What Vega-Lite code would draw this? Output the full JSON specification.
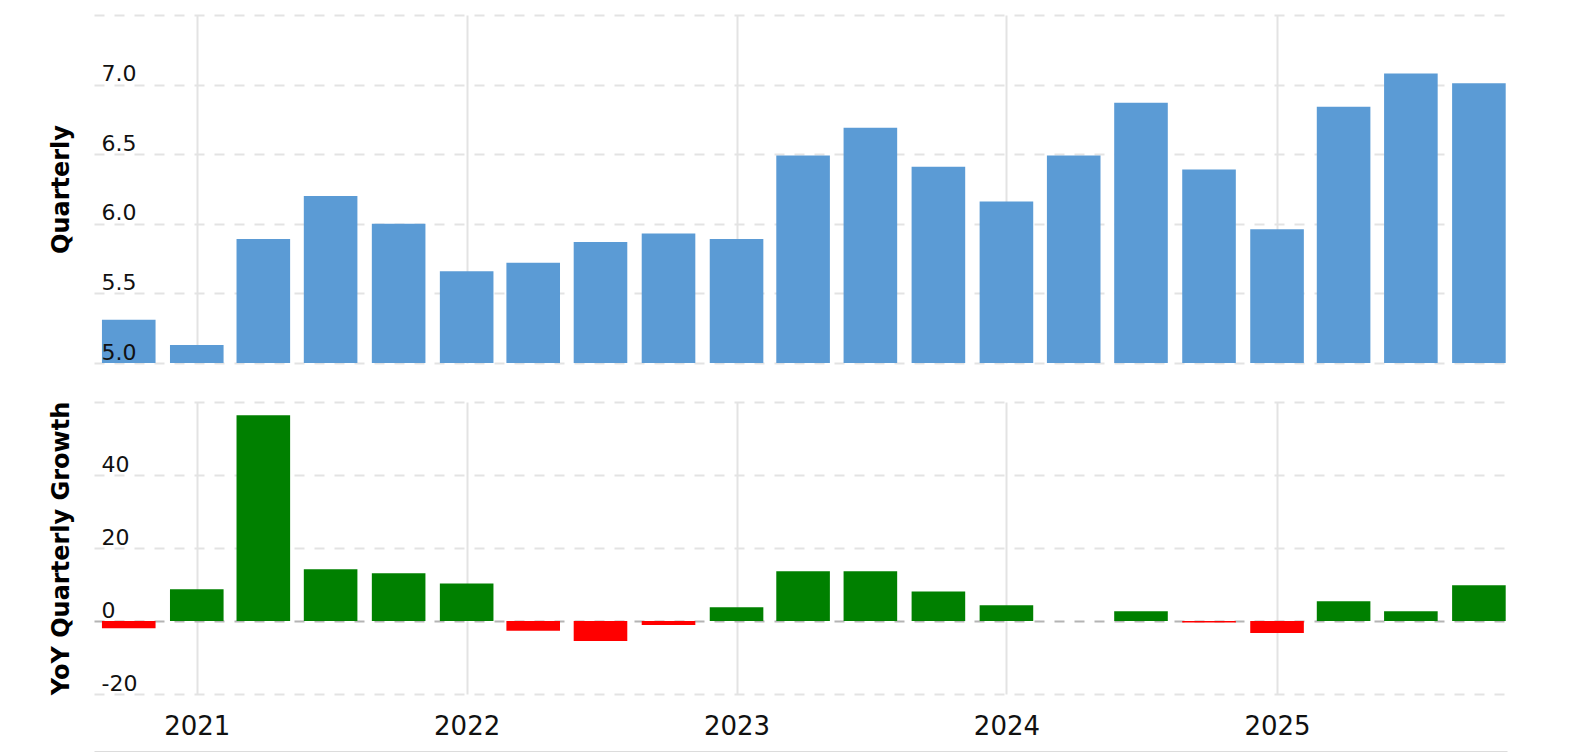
{
  "$schema": "https://vega.github.io/schema/vega-lite/v6.json",
  "padding": {"left": 48, "top": 15, "right": 10, "bottom": 0},
  "background": "white",
  "config": {
    "view": {"stroke": null},
    "font": "DejaVu Sans",
    "axis": {"labelFont": "DejaVu Sans", "titleFont": "DejaVu Sans"},
    "scale": {"continuousPadding": 0}
  },
  "datasets": {
    "q": [
      {"date": "2020-10-01", "value": 5.31, "growth": -2.0},
      {"date": "2021-01-01", "value": 5.13, "growth": 8.7},
      {"date": "2021-04-01", "value": 5.89, "growth": 56.4},
      {"date": "2021-07-01", "value": 6.20, "growth": 14.2},
      {"date": "2021-10-01", "value": 6.00, "growth": 13.1},
      {"date": "2022-01-01", "value": 5.66, "growth": 10.3},
      {"date": "2022-04-01", "value": 5.72, "growth": -2.7},
      {"date": "2022-07-01", "value": 5.87, "growth": -5.5},
      {"date": "2022-10-01", "value": 5.93, "growth": -1.1},
      {"date": "2023-01-01", "value": 5.89, "growth": 3.8},
      {"date": "2023-04-01", "value": 6.49, "growth": 13.6},
      {"date": "2023-07-01", "value": 6.69, "growth": 13.6},
      {"date": "2023-10-01", "value": 6.41, "growth": 8.1},
      {"date": "2024-01-01", "value": 6.16, "growth": 4.3},
      {"date": "2024-04-01", "value": 6.49, "growth": 0.0},
      {"date": "2024-07-01", "value": 6.87, "growth": 2.7},
      {"date": "2024-10-01", "value": 6.39, "growth": -0.4},
      {"date": "2025-01-01", "value": 5.96, "growth": -3.3},
      {"date": "2025-04-01", "value": 6.84, "growth": 5.4},
      {"date": "2025-07-01", "value": 7.08, "growth": 2.7},
      {"date": "2025-10-01", "value": 7.01, "growth": 9.8}
    ]
  },
  "data": {"name": "q"},
  "spacing": 38,
  "vconcat": [
    {
      "width": 1413,
      "height": 348,
      "layer": [
        {
          "mark": {"type": "bar", "width": 53.6, "color": "#5b9bd5", "clip": true},
          "encoding": {
            "x": {
              "field": "date", "type": "temporal",
              "scale": {"type": "utc", "nice": false, "padding": 0, "domain": [{"year": 2020, "month": 8, "date": 15, "utc": true}, {"year": 2025, "month": 11, "date": 8, "utc": true}]},
              "axis": {
                "values": [{"year": 2021, "month": 1, "date": 1, "utc": true}, {"year": 2022, "month": 1, "date": 1, "utc": true}, {"year": 2023, "month": 1, "date": 1, "utc": true}, {"year": 2024, "month": 1, "date": 1, "utc": true}, {"year": 2025, "month": 1, "date": 1, "utc": true}],
                "labels": false, "ticks": false, "domain": false, "title": null,
                "grid": true, "gridColor": "#e3e3e3", "gridWidth": 2
              }
            },
            "y": {
              "field": "value", "type": "quantitative",
              "scale": {"domain": [5, 7.5], "zero": false, "nice": false},
              "axis": {
                "orient": "left",
                "values": [5, 5.5, 6, 6.5, 7, 7.5],
                "labels": false, "ticks": false, "domain": false,
                "grid": true, "gridDash": [10, 10], "gridColor": "#e3e3e3", "gridWidth": 2,
                "title": "Quarterly", "titleFontSize": 24, "titleFontWeight": "bold", "titleColor": "#000", "titlePadding": 21
              }
            },
            "y2": {"datum": 5}
          }
        },
        {
          "mark": {"type": "bar", "width": 53.6, "opacity": 0, "clip": true},
          "encoding": {
            "x": {"field": "date", "type": "temporal"},
            "y": {
              "field": "value", "type": "quantitative",
              "axis": {
                "orient": "left", "zindex": 1,
                "values": [5, 5.5, 6, 6.5, 7], "format": ".1f",
                "grid": false, "ticks": false, "tickSize": 0, "domain": false,
                "labelAlign": "left", "labelPadding": -7, "labelBaseline": "alphabetic", "labelOffset": -4,
                "labelFontSize": 22, "labelColor": "#111", "labelOverlap": false,
                "title": null
              }
            },
            "y2": {"datum": 5}
          }
        }
      ],
      "resolve": {"axis": {"y": "independent"}}
    },
    {
      "width": 1413,
      "height": 292,
      "layer": [
        {
          "mark": {"type": "bar", "width": 53.6, "clip": true},
          "encoding": {
            "x": {
              "field": "date", "type": "temporal",
              "scale": {"type": "utc", "nice": false, "padding": 0, "domain": [{"year": 2020, "month": 8, "date": 15, "utc": true}, {"year": 2025, "month": 11, "date": 8, "utc": true}]},
              "axis": {
                "values": [{"year": 2021, "month": 1, "date": 1, "utc": true}, {"year": 2022, "month": 1, "date": 1, "utc": true}, {"year": 2023, "month": 1, "date": 1, "utc": true}, {"year": 2024, "month": 1, "date": 1, "utc": true}, {"year": 2025, "month": 1, "date": 1, "utc": true}],
                "format": "%Y", "formatType": "utc",
                "offset": 58, "ticks": false, "tickSize": 0,
                "domain": true, "domainColor": "#dcdcdc", "domainWidth": 3,
                "labelPadding": -17.5, "labelBaseline": "alphabetic", "labelFontSize": 26, "labelColor": "#111", "labelFlush": false,
                "title": null,
                "grid": true, "gridColor": "#e3e3e3", "gridWidth": 2
              }
            },
            "y": {
              "field": "growth", "type": "quantitative",
              "scale": {"domain": [-20, 60], "nice": false},
              "axis": {
                "orient": "left",
                "values": [-20, 0, 20, 40, 60],
                "labels": false, "ticks": false, "domain": false,
                "grid": true, "gridDash": [10, 10],
                "gridColor": {"condition": {"test": "datum.value === 0", "value": "#b4b4b4"}, "value": "#e3e3e3"},
                "gridWidth": 2,
                "title": "YoY Quarterly Growth", "titleFontSize": 24, "titleFontWeight": "bold", "titleColor": "#000", "titlePadding": 21
              }
            },
            "y2": {"datum": 0},
            "color": {"condition": {"test": "datum.growth < 0", "value": "#ff0000"}, "value": "#008000"}
          }
        },
        {
          "mark": {"type": "bar", "width": 53.6, "opacity": 0, "clip": true},
          "encoding": {
            "x": {"field": "date", "type": "temporal"},
            "y": {
              "field": "growth", "type": "quantitative",
              "axis": {
                "orient": "left", "zindex": 1,
                "values": [-20, 0, 20, 40],
                "labelExpr": "datum.value < 0 ? '-' + abs(datum.value) : '' + datum.value",
                "grid": false, "ticks": false, "tickSize": 0, "domain": false,
                "labelAlign": "left", "labelPadding": -7, "labelBaseline": "alphabetic", "labelOffset": -4,
                "labelFontSize": 22, "labelColor": "#111", "labelOverlap": false,
                "title": null
              }
            },
            "y2": {"datum": 0}
          }
        }
      ],
      "resolve": {"axis": {"y": "independent"}}
    }
  ]
}
